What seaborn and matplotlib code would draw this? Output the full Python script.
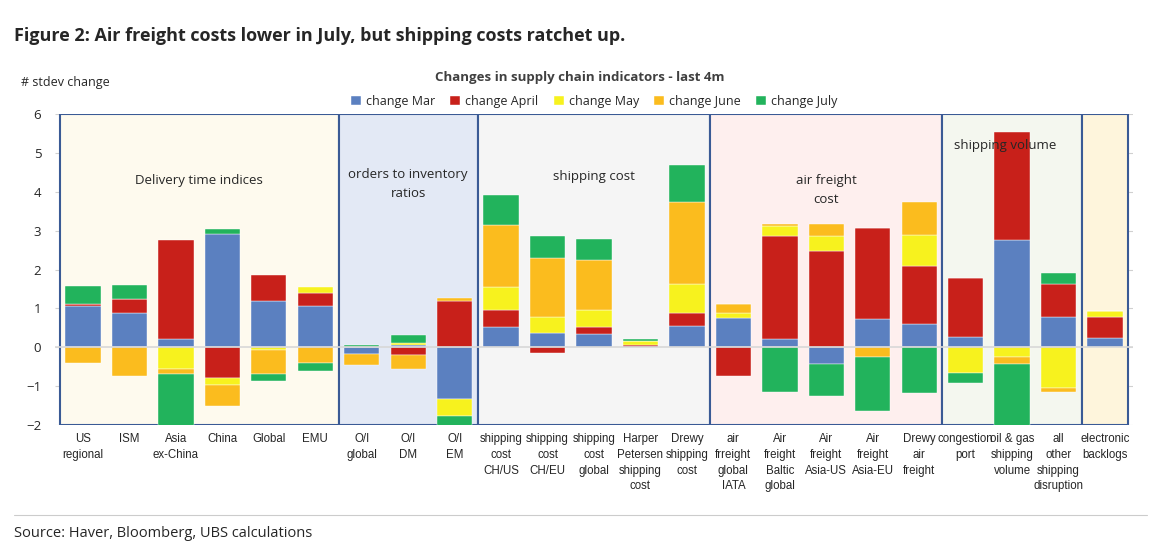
import numpy as np
import matplotlib.pyplot as plt
import seaborn as sns
from matplotlib.patches import Rectangle

categories = ["US\nregional", "ISM", "Asia\nex-China", "China", "Global", "EMU",
              "O/I\nglobal", "O/I\nDM", "O/I\nEM",
              "shipping\ncost\nCH/US", "shipping\ncost\nCH/EU", "shipping\ncost\nglobal",
              "Harper\nPetersen\nshipping\ncost", "Drewy\nshipping\ncost",
              "air\nfrreight\nglobal\nIATA", "Air\nfreight\nBaltic\nglobal", "Air\nfreight\nAsia-US",
              "Air\nfreight\nAsia-EU", "Drewy\nair\nfreight",
              "congestion\nport", "oil & gas\nshipping\nvolume", "all\nother\nshipping\ndisruption",
              "electronic\nbacklogs"]

change_mar = [1.05, 0.87, 0.22, 2.92, 1.20, 1.05, -0.18, 0.05, -1.33,
              0.53, 0.38, 0.34, 0.02, 0.55, 0.75, 0.21, -0.44, 0.73, 0.60,
              0.26, 2.76, 0.77, 0.24]
change_apr = [0.07, 0.38, 2.55, -0.78, 0.65, 0.35, 0.0, -0.20, 1.18,
              0.43, -0.15, 0.17, 0.03, 0.32, -0.75, 2.65, 2.47, 2.33, 1.49,
              1.52, 2.77, 0.87, 0.55]
change_may = [0.0, 0.0, -0.55, -0.20, -0.07, 0.15, 0.0, 0.07, -0.45,
              0.60, 0.39, 0.46, 0.12, 0.77, 0.13, 0.27, 0.40, 0.01, 0.80,
              -0.67, -0.24, -1.06, 0.15]
change_jun = [-0.40, -0.73, -0.15, -0.52, -0.62, -0.40, -0.28, -0.35, 0.10,
              1.60, 1.52, 1.28, 0.0, 2.10, 0.24, 0.04, 0.30, -0.26, 0.85,
              0.0, -0.19, -0.10, 0.0]
change_jul = [0.47, 0.35, -1.35, 0.13, -0.18, -0.20, 0.05, 0.20, -0.25,
              0.75, 0.58, 0.55, 0.04, 0.94, 0.0, -1.15, -0.82, -1.38, -1.18,
              -0.24, -1.62, 0.28, 0.0]

series = {"change Mar": change_mar, "change April": change_apr, "change May": change_may,
          "change June": change_jun, "change July": change_jul}
colors = ["#5B80C0", "#C8201A", "#F7F21E", "#FBBC1E", "#22B35C"]

groups = [("Delivery time indices", 0, 5, "#FEFAEE", 2.5, 4.3, "center"),
          ("orders to inventory\nratios", 6, 8, "#E3E9F5", 7, 4.2, "center"),
          ("shipping cost", 9, 13, "#F5F5F5", 11, 4.4, "center"),
          ("air freight\ncost", 14, 18, "#FEEFEE", 16, 4.05, "center"),
          ("shipping volume", 19, 21, "#F4F7EF", 18.75, 5.2, "left"),
          ("", 22, 22, "#FEF5DC", 22, 0, "center")]

sns.set_style("white")
plt.rcParams['font.family'] = ['Open Sans', 'DejaVu Sans']

fig = plt.figure(figsize=(11.49, 5.57), dpi=100)
ax = fig.add_axes([0.048, 0.237, 0.938, 0.558])

x = np.arange(len(categories))
for y in range(-2, 7):
    ax.axhline(y, color="#D0D0D0", ls=(0, (4, 3)), lw=0.8, zorder=0)

for name, a, b, fc, tx, ty, ha in groups:
    ax.add_patch(Rectangle((a - 0.5, -2), b - a + 1, 8, facecolor=fc,
                           edgecolor="#3A5A95", lw=1.5, zorder=1))
    if name:
        ax.text(tx, ty, name, ha=ha, va="center", fontsize=9.5, zorder=5, linespacing=1.6)

pos = np.zeros(len(x))
neg = np.zeros(len(x))
for (name, vals), c in zip(series.items(), colors):
    v = np.array(vals)
    bottom = np.where(v >= 0, pos, neg)
    ax.bar(x, v, bottom=bottom, width=0.76, color=c, label=name, zorder=3,
           edgecolor="white", linewidth=0.3)
    pos = pos + np.clip(v, 0, None)
    neg = neg + np.clip(v, None, 0)

ax.axhline(0, color="#D8D8D8", lw=1.2, zorder=4)
ax.set_xlim(-0.6, 22.6)
ax.set_ylim(-2, 6)
ax.set_xticks(x)
ax.set_xticklabels(categories, fontsize=8.3, linespacing=1.4, va="top",
                   family=['Liberation Sans Narrow', 'Liberation Sans', 'DejaVu Sans'])
ax.tick_params(axis="x", length=0, pad=6)
ax.tick_params(axis="y", labelsize=9.5, length=0, pad=10)
for s in ax.spines.values():
    s.set_visible(False)

ax.legend(ncol=5, loc="lower center", bbox_to_anchor=(0.5, 1.0), frameon=False,
          fontsize=9, handlelength=0.8, handleheight=0.8, columnspacing=1.2,
          handletextpad=0.4, borderaxespad=0.1)

fig.text(0.012, 0.935, "Figure 2: Air freight costs lower in July, but shipping costs ratchet up.",
         fontsize=13, fontweight="bold", va="center")
fig.text(0.018, 0.852, "# stdev change", fontsize=9, va="center")
fig.text(0.505, 0.86, "Changes in supply chain indicators - last 4m", fontsize=9.5,
         fontweight="bold", ha="center", va="center", color="#404040")
fig.add_artist(plt.Line2D([0.012, 0.998], [0.076, 0.076], color="#CCCCCC", lw=0.8))
fig.text(0.012, 0.042, "Source: Haver, Bloomberg, UBS calculations", fontsize=10.5, va="center")

fig.savefig("out.png", dpi=100)
